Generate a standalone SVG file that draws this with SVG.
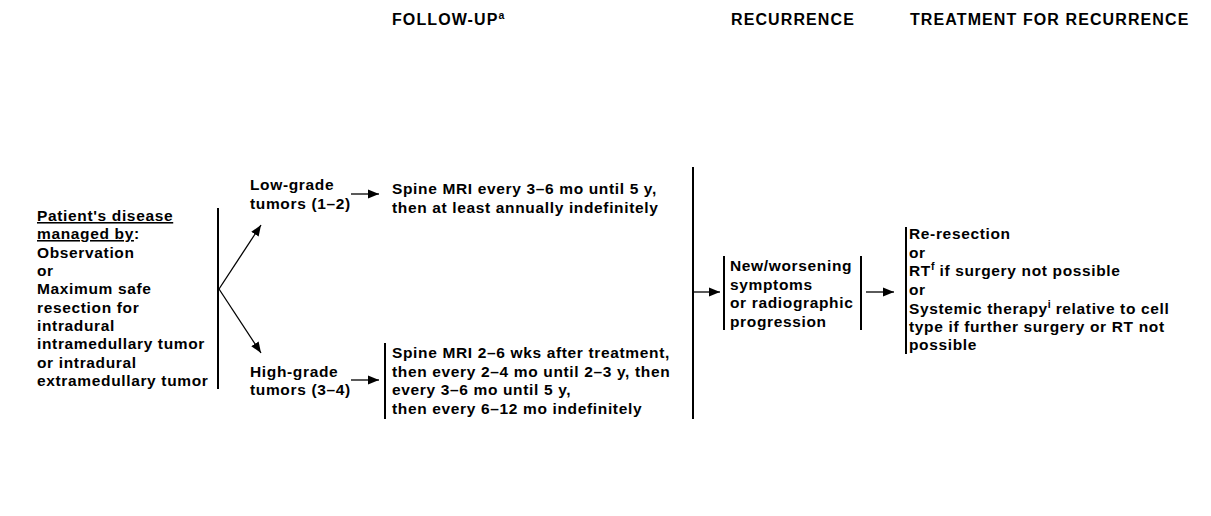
<svg xmlns="http://www.w3.org/2000/svg" width="1211" height="516" viewBox="0 0 1211 516">
<defs>
<style>
text{font-family:"Liberation Sans",Arial,sans-serif;font-weight:bold;font-size:15.5px;fill:#000;letter-spacing:0.65px}
.h{font-size:16px;letter-spacing:1.1px}
.ln{stroke:#000;stroke-width:2;fill:none}
.cn{stroke:#000;stroke-width:1.3;fill:none}
.sup{font-size:10.5px;letter-spacing:0}
</style>
<marker id="ah" viewBox="0 0 10 10" refX="10" refY="5" markerWidth="11" markerHeight="11" markerUnits="userSpaceOnUse" orient="auto">
<path d="M0,1 L10,5 L0,9 Z" fill="#000"/>
</marker>
</defs>
<rect width="1211" height="516" fill="#fff"/>
<g id="headers">
<text class="h" x="392" y="25">FOLLOW-UP<tspan class="sup" dy="-6">a</tspan></text>
<text class="h" x="731" y="25">RECURRENCE</text>
<text class="h" x="910" y="25">TREATMENT FOR RECURRENCE</text>
</g>
<g id="start">
<text x="37" y="221"><tspan text-decoration="underline">Patient's disease </tspan></text>
<text x="37" y="239"><tspan text-decoration="underline">managed by</tspan>:</text>
<text x="37" y="258">Observation</text>
<text x="37" y="276">or</text>
<text x="37" y="294">Maximum safe</text>
<text x="37" y="313">resection for</text>
<text x="37" y="331">intradural</text>
<text x="37" y="349">intramedullary tumor</text>
<text x="37" y="368">or intradural</text>
<text x="37" y="386">extramedullary tumor</text>
<line class="ln" x1="218" y1="208" x2="218" y2="389"/>
</g>
<g id="low-grade">
<text x="250" y="190">Low-grade</text>
<text x="250" y="209">tumors (1–2)</text>
</g>
<g id="low-followup">
<text x="392" y="194">Spine MRI every 3–6 mo until 5 y,</text>
<text x="392" y="213">then at least annually indefinitely</text>
</g>
<g id="high-grade">
<text x="250" y="377">High-grade</text>
<text x="250" y="395">tumors (3–4)</text>
</g>
<g id="high-followup">
<line class="ln" x1="385" y1="343" x2="385" y2="419"/>
<text x="392" y="358">Spine MRI 2–6 wks after treatment,</text>
<text x="392" y="377">then every 2–4 mo until 2–3 y, then</text>
<text x="392" y="395">every 3–6 mo until 5 y,</text>
<text x="392" y="414">then every 6–12 mo indefinitely</text>
</g>
<g id="recurrence">
<line class="ln" x1="724" y1="256" x2="724" y2="330"/>
<line class="ln" x1="861" y1="256" x2="861" y2="330"/>
<text x="730" y="271">New/worsening</text>
<text x="730" y="290">symptoms</text>
<text x="730" y="308">or radiographic</text>
<text x="730" y="327">progression</text>
</g>
<g id="treatment">
<line class="ln" x1="906" y1="227" x2="906" y2="354"/>
<text x="909" y="239">Re-resection</text>
<text x="909" y="258">or</text>
<text x="909" y="276">RT<tspan class="sup" dy="-6">f</tspan><tspan dy="6"> if surgery not possible</tspan></text>
<text x="909" y="295">or</text>
<text x="909" y="314">Systemic therapy<tspan class="sup" dy="-6">i</tspan><tspan dy="6"> relative to cell</tspan></text>
<text x="909" y="332">type if further surgery or RT not</text>
<text x="909" y="350">possible</text>
</g>
<g id="connectors">
<line class="cn" x1="219" y1="289" x2="261" y2="225" marker-end="url(#ah)"/>
<line class="cn" x1="219" y1="289" x2="261" y2="353" marker-end="url(#ah)"/>
<line class="cn" x1="351" y1="194" x2="379" y2="194" marker-end="url(#ah)"/>
<line class="cn" x1="351" y1="380" x2="379" y2="380" marker-end="url(#ah)"/>
<line class="ln" x1="693" y1="167" x2="693" y2="419"/>
<line class="cn" x1="693" y1="292" x2="720" y2="292" marker-end="url(#ah)"/>
<line class="cn" x1="866" y1="292" x2="894" y2="292" marker-end="url(#ah)"/>
</g>
</svg>
